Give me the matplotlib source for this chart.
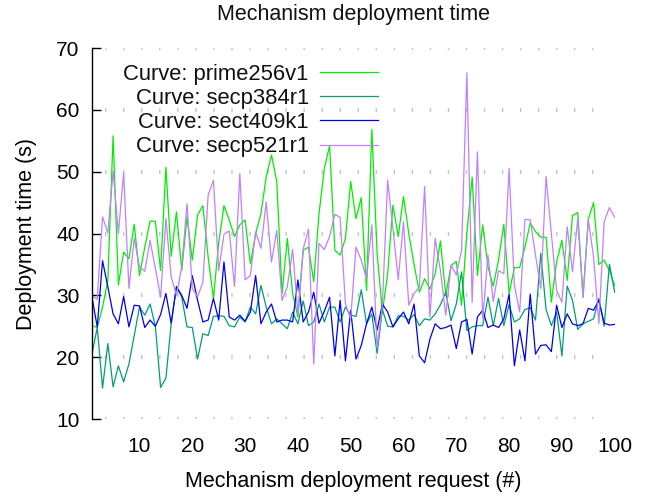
import matplotlib
matplotlib.use("Agg")
import matplotlib.pyplot as plt

plt.rcParams.update({
    "font.family": ["Liberation Sans", "DejaVu Sans"],
    "text.color": "#111111",
})

# deployment request index
requests = list(range(1, 101))

# deployment time (s) per curve
prime256v1 = [
    25.1, 24.8, 28.1, 32.4, 55.8, 31.7, 37.0, 35.9, 41.5, 33.2,
    37.8, 42.0, 42.0, 34.0, 50.7, 36.3, 43.5, 34.0, 42.7, 35.7,
    43.0, 44.5, 36.2, 29.5, 38.5, 44.5, 42.2, 39.5, 41.4, 42.2,
    35.1, 40.0, 43.2, 49.2, 52.7, 48.4, 30.3, 39.2, 30.3, 26.5,
    37.3, 37.8, 32.2, 43.2, 50.5, 54.2, 37.3, 36.5, 39.2, 48.4,
    42.4, 45.8, 30.8, 56.8, 36.8, 27.3, 33.5, 44.6, 39.5, 46.0,
    40.0, 35.0, 30.5, 32.7, 31.0, 33.5, 38.8, 30.0, 34.8, 35.5,
    28.4, 40.0, 49.1, 33.2, 41.4, 34.6, 31.5, 35.7, 41.5, 30.3,
    34.5, 34.5, 37.8, 41.7, 40.3, 39.4, 39.4, 28.9, 35.4, 38.9,
    32.4, 42.9, 43.4, 29.7, 42.3, 45.0, 35.0, 35.7, 34.0, 31.6,
]
secp384r1 = [
    20.5, 24.8, 15.0, 22.2, 15.2, 18.6, 16.0, 18.9, 23.5, 28.1,
    26.8, 28.6, 25.0, 15.1, 16.6, 25.4, 31.4, 29.7, 24.9, 24.8,
    19.7, 23.8, 23.5, 26.6, 26.7, 26.6, 25.1, 24.9, 26.5, 25.7,
    28.1, 27.0, 31.6, 28.1, 25.4, 26.2, 25.4, 24.6, 27.3, 25.4,
    29.1, 25.1, 25.7, 28.6, 25.7, 28.1, 28.1, 25.7, 28.1, 26.8,
    26.6, 30.9, 25.4, 27.0, 20.6, 27.7, 25.0, 24.9, 26.7, 26.6,
    26.0, 26.9, 25.1, 26.2, 26.0, 27.0, 28.5, 30.5, 25.9, 28.6,
    33.8, 24.3, 24.9, 25.1, 25.1, 29.7, 25.1, 29.5, 25.1, 28.5,
    25.7, 26.2, 27.7, 28.0, 26.0, 36.8, 27.7, 25.1, 27.3, 20.2,
    31.5, 29.2, 24.5, 25.4, 25.8, 26.2, 29.5, 25.0, 35.0, 30.5,
]
sect409k1 = [
    29.7, 24.9, 35.6, 31.4, 27.0, 25.4, 29.8, 24.9, 28.4, 28.3,
    24.8, 26.0, 25.0, 26.9, 30.3, 25.5, 31.4, 30.0, 27.9, 33.2,
    29.2, 25.7, 26.0, 29.5, 26.0, 35.4, 26.5, 26.0, 26.8, 25.8,
    27.3, 33.2, 25.4, 27.3, 28.6, 25.7, 26.0, 26.0, 25.7, 32.5,
    25.7, 27.3, 30.5, 25.5, 27.4, 29.7, 20.2, 29.2, 19.4, 27.6,
    19.7, 21.9, 25.4, 28.1, 24.4, 28.6, 27.3, 24.9, 26.2, 27.3,
    25.4, 28.6, 20.2, 19.1, 22.9, 25.4, 24.6, 24.8, 25.2, 21.4,
    25.7, 26.1, 20.5, 26.5, 27.6, 24.8, 25.2, 24.8, 26.2, 30.2,
    18.6, 24.4, 19.4, 30.2, 20.5, 21.9, 22.0, 20.9, 28.4, 24.8,
    27.0, 25.4, 25.1, 25.4, 27.9, 27.6, 29.2, 25.5, 25.2, 25.3,
]
secp521r1 = [
    29.9, 29.4, 42.7, 40.1, 50.1, 40.0, 49.8, 31.1, 39.2, 34.6,
    33.9, 38.9, 34.4, 29.7, 42.4, 33.0, 30.0, 34.6, 44.8, 31.1,
    29.8, 32.1, 46.2, 48.6, 34.0, 39.9, 40.4, 31.4, 49.7, 32.5,
    33.2, 40.3, 37.6, 45.1, 35.4, 40.5, 29.2, 31.4, 37.4, 27.0,
    37.5, 40.7, 18.9, 38.4, 37.4, 39.5, 43.1, 42.6, 28.6, 26.2,
    37.8, 35.7, 32.7, 41.4, 21.5, 28.4, 48.6, 40.8, 32.5, 41.9,
    28.4, 30.3, 31.3, 47.6, 26.5, 39.2, 34.0, 26.8, 34.9, 33.3,
    37.3, 66.0, 28.9, 53.2, 26.2, 36.5, 29.0, 34.0, 33.5, 50.5,
    31.6, 27.3, 42.3, 42.2, 36.5, 31.1, 49.2, 40.0, 30.8, 28.9,
    41.1, 33.8, 42.4, 29.7, 42.2, 36.2, 25.4, 41.9, 44.2, 42.6,
]

curves = [
    ("Curve: prime256v1", prime256v1, "#00ee00"),
    ("Curve: secp384r1", secp384r1, "#009e73"),
    ("Curve: sect409k1", sect409k1, "#0000f0"),
    ("Curve: secp521r1", secp521r1, "#c080ff"),
]

fig = plt.figure(figsize=(6.5, 4.95), dpi=100)
ax = fig.add_axes([0.1415, 0.1535, 0.8042, 0.7495])

for label, values, color in curves:
    ax.plot(requests, values, color=color, linewidth=0.9, label=label)

ax.set_xlim(1, 100)
ax.set_ylim(10, 70)
ax.set_xticks(range(10, 101, 10))
ax.set_yticks(range(10, 71, 10))

# gnuplot-like dashed horizontal grid
for y in range(10, 71, 10):
    ax.axhline(y, xmin=0.025, xmax=0.99, color="#c4c4c4", linewidth=3,
               linestyle=(0, (0.33, 4.0)), dash_capstyle="butt", zorder=0)

for side in ("top", "right", "bottom"):
    ax.spines[side].set_visible(False)
ax.spines["left"].set_linewidth(1.0)
ax.tick_params(axis="y", direction="in", length=6.5, width=1.0, pad=9, labelsize=15)
ax.tick_params(axis="x", length=0, pad=13, labelsize=15)

ax.set_xlabel("Mechanism deployment request (#)", fontsize=15.5, labelpad=11)
ax.set_ylabel("Deployment time (s)", fontsize=15.5, labelpad=14)
ax.set_title("Mechanism deployment time", fontsize=15.5, pad=20)

ax.legend(loc="upper right", bbox_to_anchor=(0.547, 0.957), frameon=False,
          markerfirst=False, fontsize=15.8, handlelength=2.65, handletextpad=0.5,
          labelspacing=0.14, borderpad=0, borderaxespad=0)

fig.savefig("out.png", dpi=100)
